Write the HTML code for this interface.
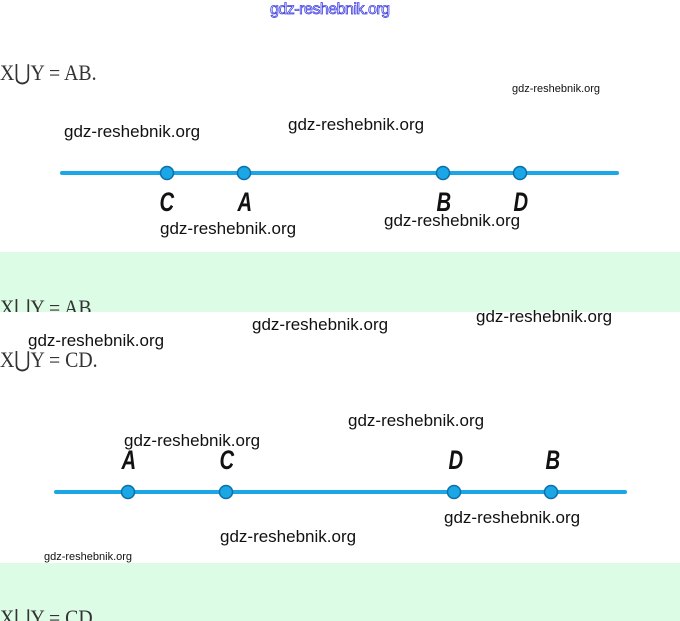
<!DOCTYPE html>
<html><head><meta charset="utf-8"><style>
body{margin:0;width:680px;height:621px;position:relative;overflow:hidden;background:#fff;font-family:"Liberation Sans",sans-serif}
.w{position:absolute;font-size:17px;color:#111;white-space:nowrap;line-height:1}
.s{font-size:11px}
.m{position:absolute;font-family:"Liberation Serif",serif;font-size:22px;color:#333;white-space:nowrap;line-height:1;transform:scaleX(0.9);transform-origin:0 0}
.g{position:absolute;left:0;width:680px;background:#dcfce6;overflow:hidden}
.l{position:absolute;font-size:27px;font-weight:bold;font-style:italic;color:#111;transform:scaleX(0.75);line-height:1}
</style></head><body>
<div class="w" style="left:270px;top:2px;font-size:16px;color:#fff;-webkit-text-stroke:0.8px #4040e0;letter-spacing:-0.5px">gdz-reshebnik.org</div>
<div class="m" style="left:0;top:62px">X⋃Y = AB.</div>
<div class="g" style="top:252px;height:60px"><div class="m" style="left:0;top:45px">X⋃Y = AB</div></div>
<div class="m" style="left:0;top:349px">X⋃Y = CD.</div>
<div class="g" style="top:563px;height:58px"><div class="m" style="left:0;top:44px">X⋃Y = CD</div></div>
<svg width="680" height="621" style="position:absolute;left:0;top:0">
<line x1="62" y1="173" x2="617" y2="173" stroke="#1ba6e6" stroke-width="4" stroke-linecap="round"/>
<g fill="#1ba6e6" stroke="#0b6fa8" stroke-width="1.5">
<circle cx="167" cy="173" r="6.5"/><circle cx="244" cy="173" r="6.5"/><circle cx="443" cy="173" r="6.5"/><circle cx="520" cy="173" r="6.5"/></g>
<line x1="56" y1="492" x2="625" y2="492" stroke="#1ba6e6" stroke-width="4" stroke-linecap="round"/>
<g fill="#1ba6e6" stroke="#0b6fa8" stroke-width="1.5">
<circle cx="128" cy="492" r="6.5"/><circle cx="226" cy="492" r="6.5"/><circle cx="454" cy="492" r="6.5"/><circle cx="551" cy="492" r="6.5"/></g>
</svg>
<div class="l" style="left:157px;top:189px">C</div>
<div class="l" style="left:235px;top:189px">A</div>
<div class="l" style="left:434px;top:189px">B</div>
<div class="l" style="left:511px;top:189px">D</div>
<div class="l" style="left:119px;top:447px">A</div>
<div class="l" style="left:217px;top:447px">C</div>
<div class="l" style="left:446px;top:447px">D</div>
<div class="l" style="left:543px;top:447px">B</div>
<div class="w" style="left:64px;top:123px">gdz-reshebnik.org</div>
<div class="w" style="left:288px;top:116px">gdz-reshebnik.org</div>
<div class="w s" style="left:512px;top:84px">gdz-reshebnik.org</div>
<div class="w" style="left:160px;top:220px">gdz-reshebnik.org</div>
<div class="w" style="left:384px;top:212px">gdz-reshebnik.org</div>
<div class="w" style="left:252px;top:316px">gdz-reshebnik.org</div>
<div class="w" style="left:476px;top:308px">gdz-reshebnik.org</div>
<div class="w" style="left:28px;top:332px">gdz-reshebnik.org</div>
<div class="w" style="left:348px;top:412px">gdz-reshebnik.org</div>
<div class="w" style="left:124px;top:432px">gdz-reshebnik.org</div>
<div class="w" style="left:444px;top:509px">gdz-reshebnik.org</div>
<div class="w" style="left:220px;top:528px">gdz-reshebnik.org</div>
<div class="w s" style="left:44px;top:552px">gdz-reshebnik.org</div>
</body></html>
